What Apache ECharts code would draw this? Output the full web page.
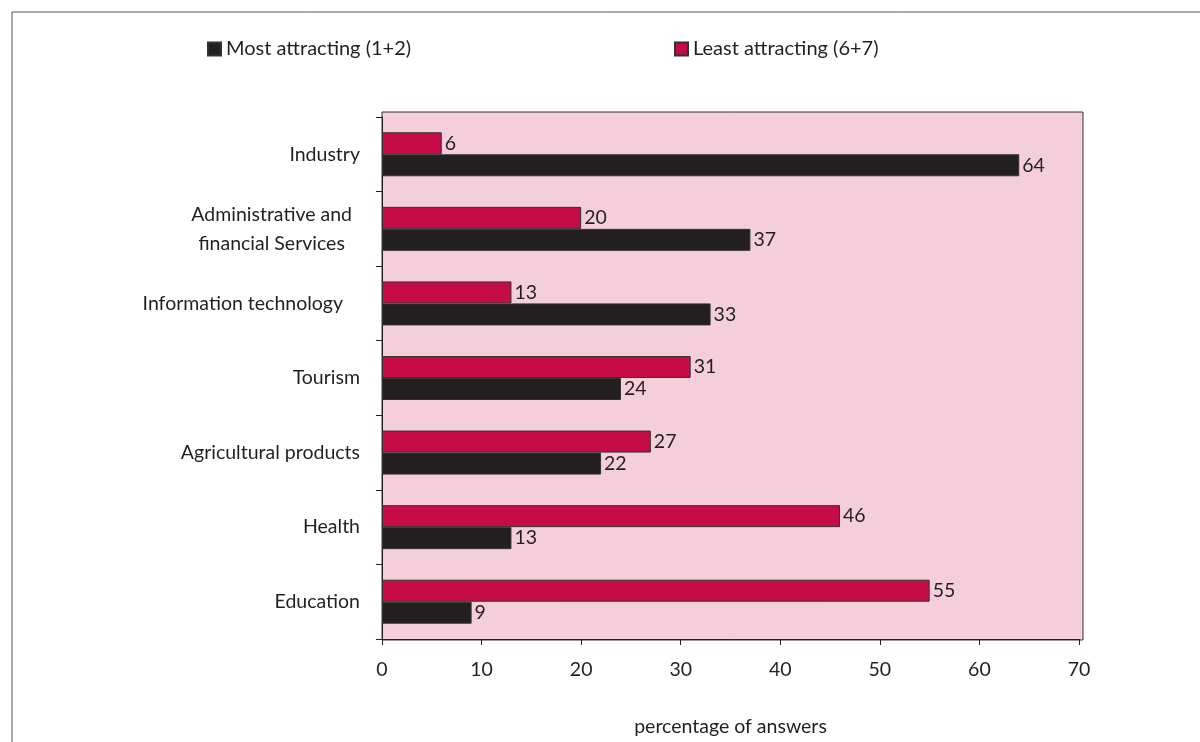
<!DOCTYPE html>
<html>
<head>
<meta charset="utf-8">
<script src="https://cdn.jsdelivr.net/npm/echarts@6/dist/echarts.min.js"></script>
<style>
  html, body { margin: 0; padding: 0; background: #ffffff; }
  #chart { width: 1200px; height: 742px; }
</style>
</head>
<body>
<div id="chart"></div>
<script>
// Sectors, listed top to bottom
const categories = [
  'Industry',
  'Administrative and\nfinancial Services',
  'Information technology',
  'Tourism',
  'Agricultural products',
  'Health',
  'Education'
];
// Share of answers (%) per sector
const mostAttracting = [64, 37, 33, 24, 22, 13, 9];
const leastAttracting = [6, 20, 13, 31, 27, 46, 55];
const xTicks = [0, 10, 20, 30, 40, 50, 60, 70];

const FONT = 'Lato, "Open Sans", sans-serif';
const FS = 19.5;
const INK = '#231F20';
const RED = '#C60C46';
const PINK = '#F4CEDA';

const chart = echarts.init(document.getElementById('chart'), null, { renderer: 'canvas' });

const gridLeft = 382, gridTop = 117, gridRight = 121, gridBottom = 102;

const option = {
  backgroundColor: '#ffffff',
  animation: false,
  textStyle: { fontFamily: FONT, color: INK },
  graphic: [
    // outer frame
    {
      type: 'rect', z: -20, silent: true,
      shape: { x: 12, y: 12, width: 1200, height: 760 },
      style: { fill: '#ffffff', stroke: '#555555', lineWidth: 1 }
    },
    // plot panel
    {
      type: 'rect', z: -10, silent: true,
      shape: { x: gridLeft, y: gridTop - 5, width: 1200 - gridLeft - gridRight + 4, height: 742 - gridBottom - gridTop + 5 },
      style: { fill: PINK, stroke: '#333333', lineWidth: 1 }
    }
  ],
  legend: [
    {
      data: ['Most attracting (1+2)'],
      left: 202, top: 34,
      icon: 'rect', itemWidth: 13, itemHeight: 13,
      textStyle: { fontFamily: FONT, fontSize: 20, color: INK }
    },
    {
      data: ['Least attracting (6+7)'],
      left: 669, top: 34,
      icon: 'rect', itemWidth: 13, itemHeight: 13,
      textStyle: { fontFamily: FONT, fontSize: 20, color: INK }
    }
  ],
  grid: { left: gridLeft, top: gridTop, right: gridRight, bottom: gridBottom, containLabel: false },
  xAxis: {
    type: 'value',
    min: xTicks[0],
    max: xTicks[xTicks.length - 1],
    interval: 10,
    name: 'percentage of answers',
    nameLocation: 'middle',
    nameGap: 78,
    nameTextStyle: { fontFamily: FONT, fontSize: FS, color: INK },
    axisLine: { show: true, lineStyle: { color: INK, width: 1 } },
    axisTick: { show: true, length: 6, lineStyle: { color: INK } },
    axisLabel: { margin: 21, fontFamily: FONT, fontSize: FS, color: INK },
    splitLine: { show: false }
  },
  yAxis: {
    type: 'category',
    inverse: true,
    data: categories,
    axisLine: { show: true, lineStyle: { color: INK, width: 1 } },
    axisTick: { show: true, length: 6, lineStyle: { color: INK } },
    axisLabel: {
      margin: 22,
      fontFamily: FONT, fontSize: FS, color: INK,
      formatter: function (v) {
        if (v.indexOf('\n') >= 0) {
          return v.split('\n').map(s => '{c|' + s + '}').join('\n');
        }
        if (v === 'Information technology') return '{p|' + v + '}';
        return v;
      },
      rich: {
        c: { align: 'center', fontFamily: FONT, fontSize: FS, color: INK, lineHeight: 29, padding: [0, 8, 0, 0] },
        p: { fontFamily: FONT, fontSize: FS, color: INK, padding: [0, 17, 0, 0] }
      }
    },
    splitLine: { show: false }
  },
  series: [
    {
      name: 'Least attracting (6+7)',
      type: 'bar',
      data: leastAttracting,
      barGap: '0%',
      barCategoryGap: '41%',
      itemStyle: { color: RED, borderColor: '#333333', borderWidth: 1 },
      label: { show: true, position: 'right', distance: 3, fontFamily: FONT, fontSize: FS, color: INK }
    },
    {
      name: 'Most attracting (1+2)',
      type: 'bar',
      data: mostAttracting,
      barGap: '0%',
      barCategoryGap: '41%',
      itemStyle: { color: INK, borderColor: '#333333', borderWidth: 1 },
      label: { show: true, position: 'right', distance: 3, fontFamily: FONT, fontSize: FS, color: INK }
    }
  ]
};

chart.setOption(option);
</script>
</body>
</html>
